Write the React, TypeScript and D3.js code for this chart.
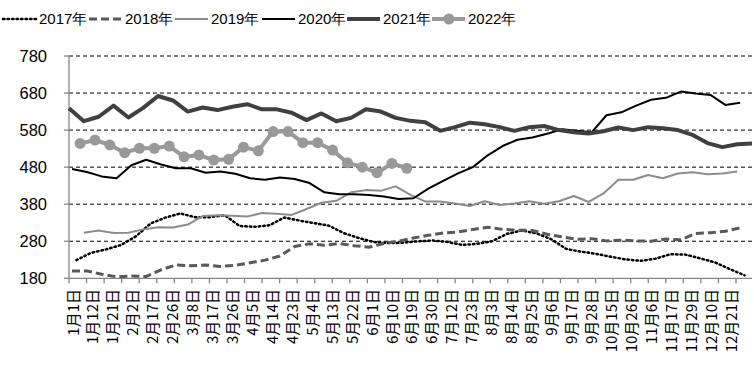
import React, { useEffect, useRef } from 'react';
import * as d3 from 'd3';

const dateLabels = [
  '1月1日', '1月12日', '1月21日', '2月2日', '2月17日', '2月26日', '3月8日', '3月17日', '3月26日',
  '4月5日', '4月14日', '4月23日', '5月4日', '5月13日', '5月22日', '6月1日', '6月10日', '6月19日',
  '6月30日', '7月12日', '7月23日', '8月3日', '8月14日', '8月25日', '9月6日', '9月17日', '9月28日',
  '10月15日', '10月26日', '11月6日', '11月17日', '11月29日', '12月10日', '12月21日',
];
const yTicks = [180, 280, 380, 480, 580, 680, 780];

const v2017 = [
  229, 249, 258, 270, 293, 328, 344, 355, 345, 345, 350, 321, 319, 323, 344, 336, 329, 322, 302, 289,
  278, 275, 276, 280, 282, 278, 270, 273, 280, 300, 309, 301, 285, 259, 252, 246, 238, 231, 227, 233,
  245, 244, 234, 223, 205, 188,
];
const v2018 = [
  200, 200, 191, 184, 186, 185, 203, 216, 214, 216, 212, 215, 222, 229, 240, 266, 273, 269, 274, 268,
  264, 274, 280, 289, 296, 302, 305, 312, 318, 312, 310, 309, 299, 292, 285, 287, 281, 283, 281, 280,
  286, 284, 301, 303, 307, 316,
];
const v2019 = [
  303, 309, 302, 303, 312, 318, 317, 325, 348, 350, 349, 347, 356, 354, 351, 367, 384, 389, 412, 418,
  416, 428, 405, 387, 387, 382, 375, 388, 378, 382, 388, 381, 388, 402, 386, 409, 446, 446, 459, 450,
  463, 466, 461, 463, 468,
];
const v2020 = [
  475, 467, 455, 450, 485, 500, 487, 477, 477, 465, 468, 462, 450, 446, 452, 448, 437, 412, 407, 407,
  405, 401, 394, 396, 422, 443, 463, 480, 512, 537, 554, 560, 570, 582, 578, 574, 620, 628, 646, 662,
  667, 684, 679, 675, 648, 654,
];
const v2021 = [
  639, 604, 616, 646, 614, 640, 672, 660, 630, 641, 634, 643, 650, 636, 636, 627, 607, 625, 604, 613,
  636, 630, 613, 605, 601, 578, 588, 600, 596, 588, 578, 588, 591, 580, 574, 571, 577, 587, 580, 588,
  585, 580, 567, 545, 534, 542, 544,
];
const v2022 = [
  544, 553, 540, 519, 531, 531, 537, 508, 513, 499, 501, 534, 524, 576, 576, 546, 546, 526, 492, 480,
  465, 490, 477,
];

const series = [
  { name: '2017年', start: 0.5, values: v2017, color: '#000', width: 2.5, dash: '1.5 3', cap: 'round' },
  { name: '2018年', start: 0.2, values: v2018, color: '#595959', width: 3, dash: '8 4', cap: 'butt' },
  { name: '2019年', start: 1, values: v2019, color: '#8c8c8c', width: 2, dash: null, cap: 'butt' },
  { name: '2020年', start: 0.2, values: v2020, color: '#000', width: 2, dash: null, cap: 'butt' },
  { name: '2021年', start: 0, values: v2021, color: '#404040', width: 4, dash: null, cap: 'butt' },
  { name: '2022年', start: 0.75, values: v2022, color: '#999', width: 4, dash: null, cap: 'butt', marker: true },
];

const legendX = [3, 89, 175, 262, 347, 432];

const App = () => {
  const ref = useRef<SVGSVGElement>(null);

  useEffect(() => {
    const svg = d3.select(ref.current);
    svg.selectAll('*').remove();

    const left = 69, right = 752, top = 56, bottom = 278.3;
    const x = d3.scaleLinear().domain([0, 46]).range([left, right]);
    const y = d3.scaleLinear().domain([180, 780]).range([bottom, top]);
    const labelX = d3.scalePoint().domain(dateLabels).range([72, 730]);
    const tickX = d3.scaleLinear().domain([0, 38]).range([left, 736]);

    // gridlines
    svg.append('g')
      .selectAll('line')
      .data(yTicks.filter(d => d !== 180))
      .join('line')
      .attr('x1', left).attr('x2', right)
      .attr('y1', d => y(d)).attr('y2', d => y(d))
      .attr('stroke', '#000').attr('stroke-width', 1).attr('stroke-dasharray', '4 3');

    // y axis
    svg.append('line')
      .attr('x1', left).attr('x2', left).attr('y1', top).attr('y2', bottom)
      .attr('stroke', '#868686').attr('stroke-width', 1.3);
    svg.append('g').selectAll('line').data(yTicks).join('line')
      .attr('x1', left - 5).attr('x2', left).attr('y1', d => y(d)).attr('y2', d => y(d))
      .attr('stroke', '#868686').attr('stroke-width', 1.3);
    svg.append('g').selectAll('text').data(yTicks).join('text')
      .attr('x', 47).attr('y', d => y(d)).attr('dy', '0.36em')
      .attr('text-anchor', 'end')
      .attr('font-family', 'Liberation Sans, Arial, sans-serif').attr('font-size', 16.5)
      .attr('fill', '#000')
      .text(d => d);

    // x axis
    svg.append('line')
      .attr('x1', left).attr('x2', right).attr('y1', bottom).attr('y2', bottom)
      .attr('stroke', '#868686').attr('stroke-width', 1.3);
    svg.append('g').selectAll('line').data(d3.range(39)).join('line')
      .attr('x1', d => tickX(d)).attr('x2', d => tickX(d))
      .attr('y1', bottom).attr('y2', bottom + 5)
      .attr('stroke', '#868686').attr('stroke-width', 1.3);
    svg.append('g').selectAll('text').data(dateLabels).join('text')
      .attr('transform', d => `translate(${labelX(d)},289) rotate(-90)`)
      .attr('text-anchor', 'end')
      .attr('dominant-baseline', 'central')
      .attr('font-family', 'Noto Sans CJK SC, sans-serif').attr('font-size', 15)
      .attr('fill', '#000')
      .text(d => d);

    // lines
    series.forEach(s => {
      const line = d3.line<number>()
        .x((_, i) => x(s.start + i))
        .y(d => y(d));
      const p = svg.append('path')
        .datum(s.values)
        .attr('fill', 'none')
        .attr('stroke', s.color)
        .attr('stroke-width', s.width)
        .attr('stroke-linejoin', 'round')
        .attr('stroke-linecap', s.cap)
        .attr('d', line);
      if (s.dash) p.attr('stroke-dasharray', s.dash);
      if (s.marker) {
        svg.append('g').selectAll('circle').data(s.values).join('circle')
          .attr('cx', (_, i) => x(s.start + i)).attr('cy', d => y(d))
          .attr('r', 5.5).attr('fill', s.color);
      }
    });

    // legend
    const lg = svg.append('g');
    series.forEach((s, i) => {
      const lx = legendX[i];
      const ly = 19;
      const l = lg.append('line')
        .attr('x1', lx).attr('x2', lx + 33).attr('y1', ly).attr('y2', ly)
        .attr('stroke', s.color).attr('stroke-width', s.width)
        .attr('stroke-linecap', s.cap);
      if (s.dash) l.attr('stroke-dasharray', s.dash);
      if (s.marker) {
        lg.append('circle').attr('cx', lx + 17).attr('cy', ly).attr('r', 5.5).attr('fill', s.color);
      }
      lg.append('text')
        .attr('x', lx + 36).attr('y', ly).attr('dy', '0.36em')
        .attr('font-family', 'Liberation Sans, Arial, sans-serif').attr('font-size', 15)
        .attr('fill', '#000')
        .text(s.name);
    });
  }, []);

  return (
    <svg
      ref={ref}
      width={754}
      height={368}
      style={{ position: 'absolute', left: 0, top: 0, background: '#fff' }}
    />
  );
};

export default App;
